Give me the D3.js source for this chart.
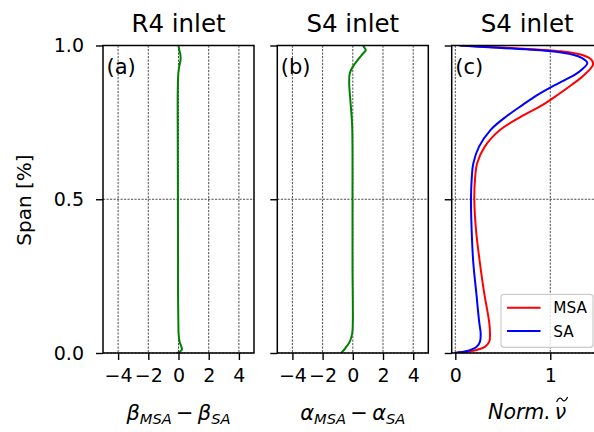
<!DOCTYPE html>
<html>
<head>
<meta charset="utf-8">
<script src="https://cdn.jsdelivr.net/npm/d3@7"></script>
<style>
  html, body { margin: 0; padding: 0; background: #fff; }
  svg { display: block; font-family: "DejaVu Sans", sans-serif; }
</style>
</head>
<body>
<svg id="chart" width="594" height="432"></svg>
<script>
// Span-wise profiles: [span, value]
const spanTicks = [0.0, 0.5, 1.0];
const diffTicks = [-4, -2, 0, 2, 4];
const nuTicks = [0, 1];

// (a) R4 inlet: beta_MSA - beta_SA
const betaDiff = [
  [0.000, -0.10], [0.004, 0.08], [0.012, 0.23], [0.022, 0.18], [0.035, 0.08],
  [0.060, 0.01], [0.100, -0.01], [0.200, -0.03], [0.300, -0.03], [0.500, -0.04],
  [0.700, -0.05], [0.850, -0.05], [0.910, -0.01], [0.935, 0.06], [0.955, 0.14],
  [0.972, 0.12], [0.988, 0.04], [1.000, 0.00]
];

// (b) S4 inlet: alpha_MSA - alpha_SA
const alphaDiff = [
  [0.000, -0.77], [0.016, -0.49], [0.037, -0.20], [0.064, -0.04], [0.097, 0.00],
  [0.290, -0.02], [0.500, -0.02], [0.736, -0.04], [0.790, -0.11], [0.845, -0.20],
  [0.877, -0.24], [0.910, -0.20], [0.931, 0.00], [0.953, 0.33], [0.974, 0.68],
  [0.985, 0.86], [0.996, 0.73], [1.000, 0.70]
];

// (c) S4 inlet: normalised nu-tilde, MSA and SA
const nuMSA = [
  [0.000, 0.00], [0.001, 0.015], [0.0075, 0.19], [0.020, 0.31], [0.037, 0.358],
  [0.064, 0.365], [0.097, 0.358], [0.150, 0.33], [0.184, 0.31], [0.291, 0.26],
  [0.400, 0.218], [0.500, 0.20], [0.563, 0.207], [0.617, 0.23], [0.671, 0.31],
  [0.725, 0.47], [0.770, 0.70], [0.807, 0.92], [0.840, 1.08], [0.873, 1.23],
  [0.905, 1.36], [0.938, 1.45], [0.955, 1.43], [0.970, 1.33], [0.981, 1.12],
  [0.992, 0.59], [0.996, 0.30], [1.000, 0.05]
];
const nuSA = [
  [0.000, 0.00], [0.001, 0.015], [0.0075, 0.137], [0.020, 0.225], [0.037, 0.26],
  [0.064, 0.267], [0.097, 0.253], [0.150, 0.235], [0.184, 0.225], [0.291, 0.19],
  [0.400, 0.172], [0.500, 0.165], [0.563, 0.172], [0.617, 0.19], [0.671, 0.25],
  [0.725, 0.37], [0.770, 0.54], [0.807, 0.71], [0.840, 0.87], [0.873, 1.06],
  [0.905, 1.26], [0.921, 1.33], [0.943, 1.39], [0.960, 1.33], [0.970, 1.24],
  [0.981, 1.01], [0.992, 0.49], [0.996, 0.25], [1.000, 0.05]
];

const titles = ["R4 inlet", "S4 inlet", "S4 inlet"];
const panelTags = ["(a)", "(b)", "(c)"];
const legendLabels = ["MSA", "SA"];

const svg = d3.select("#chart");
const plotTop = 45.5, plotBottom = 353, panelW = 151;
const lefts = [103, 277.3, 451.7];

const y = d3.scaleLinear().domain([0, 1]).range([plotBottom, plotTop]);

const panels = [
  { x: d3.scaleLinear().domain([-5, 5]).range([lefts[0], lefts[0] + panelW]), ticks: diffTicks,
    series: [{ data: betaDiff, color: "#008000" }] },
  { x: d3.scaleLinear().domain([-5, 5]).range([lefts[1], lefts[1] + panelW]), ticks: diffTicks,
    series: [{ data: alphaDiff, color: "#008000" }] },
  { x: d3.scaleLinear().domain([-0.038, 1.552]).range([lefts[2], lefts[2] + panelW]), ticks: nuTicks,
    series: [{ data: nuMSA, color: "#ff0000" }, { data: nuSA, color: "#0000ff" }] }
];

const fmtTick = v => (v < 0 ? "\u2212" + Math.abs(v) : String(v));

panels.forEach((p, i) => {
  const g = svg.append("g");
  const x0 = lefts[i], x1 = lefts[i] + panelW;

  g.append("clipPath").attr("id", "clip" + i)
    .append("rect").attr("x", x0).attr("y", plotTop).attr("width", panelW).attr("height", plotBottom - plotTop);

  // grid
  const grid = g.append("g").attr("stroke", "#000").attr("stroke-width", 0.7)
    .attr("stroke-dasharray", "2.2,1.3");
  grid.selectAll("line.v").data(p.ticks).join("line").attr("class", "v")
    .attr("x1", d => p.x(d)).attr("x2", d => p.x(d)).attr("y1", plotTop).attr("y2", plotBottom);
  grid.selectAll("line.h").data(spanTicks).join("line").attr("class", "h")
    .attr("x1", x0).attr("x2", x1).attr("y1", d => y(d)).attr("y2", d => y(d));

  // curves
  const line = d3.line().x(d => p.x(d[1])).y(d => y(d[0])).curve(d3.curveCatmullRom.alpha(0.5));
  g.append("g").attr("clip-path", `url(#clip${i})`)
    .selectAll("path").data(p.series).join("path")
    .attr("d", s => line(s.data)).attr("fill", "none")
    .attr("stroke", s => s.color).attr("stroke-width", 2)
    .attr("stroke-linejoin", "round").attr("stroke-linecap", "round");

  // axes
  const xAxis = d3.axisBottom(p.x).tickValues(p.ticks).tickSize(7).tickPadding(9).tickFormat(fmtTick);
  const ax = g.append("g").attr("transform", `translate(0,${plotBottom})`).call(xAxis);
  const yAxis = d3.axisLeft(y).tickValues(spanTicks).tickSize(7).tickPadding(12)
    .tickFormat(i === 0 ? d3.format(".1f") : () => "");
  const ay = g.append("g").attr("transform", `translate(${x0},0)`).call(yAxis);
  [ax, ay].forEach(a => {
    a.select(".domain").remove();
    a.selectAll(".tick line").attr("stroke", "#000").attr("stroke-width", 1.4);
    a.selectAll(".tick text").attr("fill", "#000").attr("font-size", 19)
      .attr("font-family", "DejaVu Sans");
  });

  // frame
  g.append("rect").attr("x", x0).attr("y", plotTop).attr("width", panelW).attr("height", plotBottom - plotTop)
    .attr("fill", "none").attr("stroke", "#000").attr("stroke-width", 1.5);

  g.append("text").attr("x", (x0 + x1) / 2).attr("y", 31.5).attr("text-anchor", "middle")
    .attr("font-size", 24.5).text(titles[i]);
  g.append("text").attr("x", x0 + 3.5).attr("y", 73.5).attr("font-size", 21).text(panelTags[i]);
});

// y label
svg.append("text").attr("transform", "translate(30.5,200) rotate(-90)")
  .attr("text-anchor", "middle").attr("font-size", 20).text("Span [%]");

// x labels with subscripts
function diffLabel(cx, sym) {
  const t = svg.append("text").attr("x", cx).attr("y", 419.5).attr("text-anchor", "middle")
    .attr("font-size", 21);
  t.append("tspan").attr("font-style", "italic").text(sym);
  t.append("tspan").attr("font-style", "italic").attr("font-size", 14.7).attr("dy", 4).text("MSA");
  t.append("tspan").attr("dy", -4).text("\u2009\u2212\u2009");
  t.append("tspan").attr("font-style", "italic").text(sym);
  t.append("tspan").attr("font-style", "italic").attr("font-size", 14.7).attr("dy", 4).text("SA");
}
diffLabel(lefts[0] + panelW / 2, "\u03b2");
diffLabel(lefts[1] + panelW / 2, "\u03b1");

// Norm. nu-tilde label
{
  const cx = lefts[2] + panelW / 2;
  const t = svg.append("text").attr("y", 418.5).attr("font-size", 20.5).attr("font-style", "italic");
  const a = t.append("tspan").text("Norm.");
  const b = t.append("tspan").attr("dx", 4).text("\u03bd");
  const total = t.node().getComputedTextLength() + 4;
  const x0 = cx - total / 2;
  t.attr("x", x0);
  const wa = a.node().getComputedTextLength();
  const wb = b.node().getComputedTextLength();
  const nx = x0 + wa + 4 + wb / 2 + 1.5;
  svg.append("path")
    .attr("d", `M${nx - 5.5},${402} C${nx - 3.5},${397} ${nx - 1},${397.5} ${nx},${399.5} S${nx + 3.5},${402} ${nx + 5.5},${397}`)
    .attr("fill", "none").attr("stroke", "#000").attr("stroke-width", 1.2);
}

// legend
{
  const lg = svg.append("g");
  lg.append("rect").attr("x", 501).attr("y", 294.3).attr("width", 92).attr("height", 53)
    .attr("rx", 3).attr("fill", "#fff").attr("fill-opacity", 0.8)
    .attr("stroke", "#cccccc").attr("stroke-width", 1.2);
  const items = [{ label: legendLabels[0], color: "#ff0000" }, { label: legendLabels[1], color: "#0000ff" }];
  items.forEach((it, k) => {
    const yy = 307.7 + k * 23.3;
    lg.append("line").attr("x1", 507).attr("x2", 540.5).attr("y1", yy).attr("y2", yy)
      .attr("stroke", it.color).attr("stroke-width", 2);
    lg.append("text").attr("x", 553.3).attr("y", yy + 5.5).attr("font-size", 15.3).text(it.label);
  });
}
</script>
</body>
</html>
